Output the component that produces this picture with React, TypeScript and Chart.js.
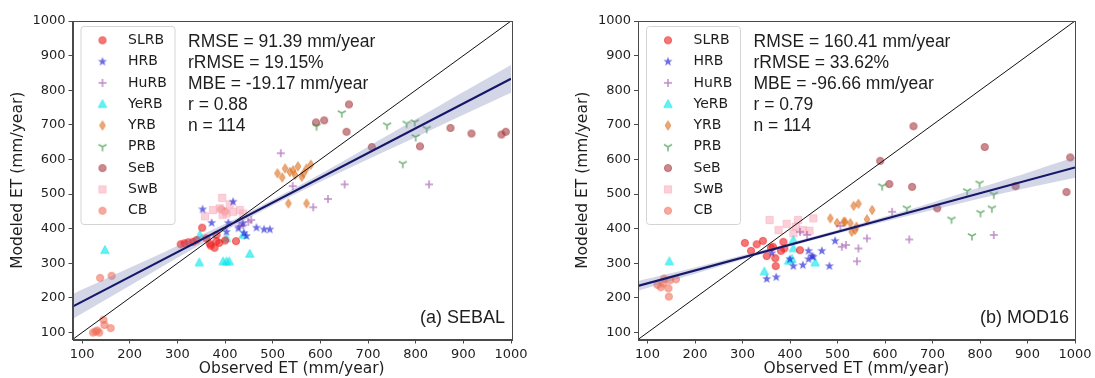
import React, { useEffect, useRef } from 'react';
import { Chart, registerables } from 'chart.js';

Chart.register(...registerables);

// ---------------- data ----------------
const categories = ['SLRB', 'HRB', 'HuRB', 'YeRB', 'YRB', 'PRB', 'SeB', 'SwB', 'CB'];
const tickValues = [100, 200, 300, 400, 500, 600, 700, 800, 900, 1000];
const axisMin = 80;
const axisMax = 1000;

// (a) SEBAL  -- observed (x) / modeled (y)
const sebalSLRBx = [307, 315, 323, 333, 340, 352, 361, 368, 370, 378, 382, 388, 400, 423, 382];
const sebalSLRBy = [355, 358, 361, 362, 367, 403, 372, 357, 351, 345, 364, 359, 366, 364, 382];
const sebalHRBx = [353, 372, 417, 407, 403, 428, 437, 466, 482, 494, 445, 440];
const sebalHRBy = [456, 417, 478, 417, 391, 401, 415, 403, 398, 398, 379, 388];
const sebalHuRBx = [438, 449, 542, 651, 616, 585, 828, 517, 455, 430];
const sebalHuRBy = [410, 420, 523, 528, 486, 462, 528, 618, 425, 408];
const sebalYeRBx = [148, 346, 396, 403, 409, 452, 347, 403, 438];
const sebalYeRBy = [338, 302, 305, 305, 305, 327, 382, 372, 382];
const sebalYRBx = [526, 536, 543, 547, 561, 571, 533, 571, 510, 520, 553, 565, 580];
const sebalYRBy = [574, 564, 569, 555, 550, 574, 473, 473, 560, 548, 580, 560, 585];
const sebalPRBx = [645, 592, 740, 781, 798, 823, 800, 773];
const sebalPRBy = [734, 696, 699, 704, 708, 689, 665, 588];
const sebalSeBx = [660, 591, 608, 655, 708, 809, 873, 917, 980, 989];
const sebalSeBy = [759, 707, 713, 680, 636, 638, 691, 675, 672, 680];
const sebalSwBx = [394, 375, 389, 403, 417, 431, 358, 438, 410, 395];
const sebalSwBy = [489, 454, 459, 444, 449, 454, 436, 444, 470, 440];
const sebalCBx = [138, 162, 123, 132, 136, 147, 145, 160, 128, 392, 400];
const sebalCBy = [258, 264, 100, 106, 100, 122, 137, 113, 103, 456, 450];

// (b) MOD16
const modSLRBx = [305, 318, 330, 343, 351, 360, 364, 369, 370, 381, 386, 388, 421];
const modSLRBy = [359, 336, 355, 365, 321, 345, 348, 315, 292, 336, 362, 343, 338];
const modHRBx = [351, 371, 362, 400, 407, 427, 439, 446, 449, 467, 483, 495, 439];
const modHRBy = [255, 260, 329, 312, 292, 295, 312, 321, 319, 336, 292, 365, 336];
const modHuRBx = [506, 518, 544, 541, 562, 615, 651, 829, 436, 421, 509];
const modHuRBy = [408, 353, 343, 306, 372, 449, 369, 382, 382, 391, 348];
const modYeRBx = [146, 346, 397, 404, 407, 453, 407];
const modYeRBy = [305, 276, 307, 312, 343, 302, 367];
const modYRBx = [485, 499, 516, 527, 530, 537, 534, 544, 573, 513, 562, 540];
const modYRBy = [430, 417, 420, 416, 391, 396, 466, 472, 454, 420, 427, 406];
const modPRBx = [594, 646, 740, 773, 799, 829, 825, 801, 783];
const modPRBy = [523, 459, 427, 509, 531, 499, 459, 446, 379];
const modSeBx = [660, 810, 590, 609, 657, 710, 875, 990, 982];
const modSeBy = [696, 636, 596, 529, 521, 459, 523, 606, 506];
const modSwBx = [357, 376, 393, 407, 412, 427, 441, 449, 417];
const modSwBy = [425, 396, 414, 387, 406, 396, 394, 430, 425];
const modCBx = [121, 128, 133, 135, 144, 145, 160, 147];
const modCBy = [238, 231, 242, 256, 228, 204, 254, 251];

// fitted lines and confidence bands
const oneToOneX = [80, 1000];
const oneToOneY = [80, 1000];
const fitX = [80, 1000];
const sebalFitY = [175, 833];
const modFitY = [235, 577];
const bandX = [80, 200, 300, 400, 500, 600, 700, 800, 900, 1000];
const sebalBandLow = [139, 235, 316, 394, 468, 536, 601, 664, 729, 793];
const sebalBandHigh = [211, 287, 350, 414, 484, 558, 637, 716, 795, 873];
const modBandLow = [221, 270, 311, 349, 386, 421, 454, 487, 518, 547];
const modBandHigh = [249, 288, 323, 359, 396, 435, 476, 519, 562, 607];

const sebalStats = ['RMSE = 91.39 mm/year', 'rRMSE = 19.15%', 'MBE = -19.17 mm/year', 'r = 0.88', 'n = 114'];
const modStats = ['RMSE = 160.41 mm/year', 'rRMSE = 33.62%', 'MBE = -96.66 mm/year', 'r = 0.79', 'n = 114'];
const sebalLabel = '(a) SEBAL';
const modLabel = '(b) MOD16';
const xTitle = 'Observed ET (mm/year)';
const yTitle = 'Modeled ET (mm/year)';

// ---------------- styles ----------------
const markerKinds: Record<string, string> = {
  SLRB: 'circle', HRB: 'star', HuRB: 'plus', YeRB: 'triangle', YRB: 'diamond',
  PRB: 'tri_down', SeB: 'circle', SwB: 'square', CB: 'circle',
};
const markerColors: Record<string, string> = {
  SLRB: 'rgba(238,30,30,0.6)',
  HRB: 'rgba(40,40,215,0.68)',
  HuRB: 'rgba(150,70,165,0.62)',
  YeRB: 'rgba(0,230,235,0.6)',
  YRB: 'rgba(220,110,30,0.6)',
  PRB: 'rgba(40,140,50,0.62)',
  SeB: 'rgba(165,55,60,0.58)',
  SwB: 'rgba(248,170,185,0.55)',
  CB: 'rgba(240,110,90,0.58)',
};

function makeMarker(kind: string, color: string): HTMLCanvasElement {
  const s = 12;
  const c = document.createElement('canvas');
  c.width = s;
  c.height = s;
  const g = c.getContext('2d')!;
  g.translate(s / 2, s / 2);
  g.fillStyle = color;
  g.strokeStyle = color;
  g.lineWidth = 1;
  g.beginPath();
  if (kind === 'circle') {
    g.arc(0, 0, 3.6, 0, Math.PI * 2);
    g.fill();
    g.stroke();
  } else if (kind === 'star') {
    for (let i = 0; i < 10; i++) {
      const r = i % 2 === 0 ? 4.8 : 2.0;
      const a = -Math.PI / 2 + (i * Math.PI) / 5;
      const px = r * Math.cos(a);
      const py = r * Math.sin(a);
      if (i === 0) g.moveTo(px, py); else g.lineTo(px, py);
    }
    g.closePath();
    g.fill();
  } else if (kind === 'plus') {
    g.lineWidth = 1.5;
    g.moveTo(-4, 0); g.lineTo(4, 0);
    g.moveTo(0, -4); g.lineTo(0, 4);
    g.stroke();
  } else if (kind === 'triangle') {
    g.moveTo(0, -4.6); g.lineTo(4.2, 3.2); g.lineTo(-4.2, 3.2);
    g.closePath();
    g.fill();
    g.stroke();
  } else if (kind === 'diamond') {
    g.moveTo(0, -4.6); g.lineTo(2.9, 0); g.lineTo(0, 4.6); g.lineTo(-2.9, 0);
    g.closePath();
    g.fill();
    g.stroke();
  } else if (kind === 'tri_down') {
    g.lineWidth = 1.6;
    g.moveTo(0, 0); g.lineTo(0, 4.6);
    g.moveTo(0, 0); g.lineTo(-4.0, -2.3);
    g.moveTo(0, 0); g.lineTo(4.0, -2.3);
    g.stroke();
  } else if (kind === 'square') {
    g.rect(-3.6, -3.6, 7.2, 7.2);
    g.fill();
    g.stroke();
  }
  return c;
}

type Plot = {
  xs: number[][];
  ys: number[][];
  fitY: number[];
  bandLow: number[];
  bandHigh: number[];
  stats: string[];
  label: string;
};

const sebalPlot: Plot = {
  xs: [sebalSLRBx, sebalHRBx, sebalHuRBx, sebalYeRBx, sebalYRBx, sebalPRBx, sebalSeBx, sebalSwBx, sebalCBx],
  ys: [sebalSLRBy, sebalHRBy, sebalHuRBy, sebalYeRBy, sebalYRBy, sebalPRBy, sebalSeBy, sebalSwBy, sebalCBy],
  fitY: sebalFitY,
  bandLow: sebalBandLow,
  bandHigh: sebalBandHigh,
  stats: sebalStats,
  label: sebalLabel,
};
const modPlot: Plot = {
  xs: [modSLRBx, modHRBx, modHuRBx, modYeRBx, modYRBx, modPRBx, modSeBx, modSwBx, modCBx],
  ys: [modSLRBy, modHRBy, modHuRBy, modYeRBy, modYRBy, modPRBy, modSeBy, modSwBy, modCBy],
  fitY: modFitY,
  bandLow: modBandLow,
  bandHigh: modBandHigh,
  stats: modStats,
  label: modLabel,
};

const TEXT = '#1e1e1e';
const tickFont = { family: '"DejaVu Sans", sans-serif', size: 13 };
const titleFont = { family: '"DejaVu Sans", sans-serif', size: 15.5 };

const overlayPlugin = {
  id: 'overlay',
  afterDraw(chart: any, _args: any, opts: any) {
    const ctx = chart.ctx as CanvasRenderingContext2D;
    const ca = chart.chartArea;
    const markers: HTMLCanvasElement[] = opts.markers;
    ctx.save();
    // frame
    ctx.strokeStyle = '#4a4a4a';
    ctx.lineWidth = 1;
    ctx.strokeRect(Math.round(ca.left) + 0.5, Math.round(ca.top) + 0.5, Math.round(ca.right - ca.left), Math.round(ca.bottom - ca.top));

    // legend
    const bl = ca.left + 8.5;
    const bt = ca.top + 5.5;
    const bw = 94;
    const bh = 198;
    ctx.beginPath();
    const r = 3;
    ctx.moveTo(bl + r, bt);
    ctx.lineTo(bl + bw - r, bt);
    ctx.quadraticCurveTo(bl + bw, bt, bl + bw, bt + r);
    ctx.lineTo(bl + bw, bt + bh - r);
    ctx.quadraticCurveTo(bl + bw, bt + bh, bl + bw - r, bt + bh);
    ctx.lineTo(bl + r, bt + bh);
    ctx.quadraticCurveTo(bl, bt + bh, bl, bt + bh - r);
    ctx.lineTo(bl, bt + r);
    ctx.quadraticCurveTo(bl, bt, bl + r, bt);
    ctx.closePath();
    ctx.fillStyle = 'rgba(255,255,255,0.85)';
    ctx.fill();
    ctx.strokeStyle = '#d4d4d4';
    ctx.stroke();
    ctx.font = '14px "DejaVu Sans", sans-serif';
    ctx.fillStyle = TEXT;
    ctx.textBaseline = 'middle';
    ctx.textAlign = 'left';
    categories.forEach((cat, i) => {
      const y = bt + 13.8 + i * 21.3;
      const m = markers[i];
      ctx.drawImage(m, bl + 21.5 - m.width / 2, y - m.height / 2);
      ctx.fillText(cat, bl + 47, y);
    });

    // stats
    ctx.font = '17.5px "Liberation Sans", Arial, sans-serif';
    (opts.stats as string[]).forEach((s, i) => {
      ctx.fillText(s, ca.left + 115.5, ca.top + 21.5 + i * 20.8);
    });
    // panel label
    ctx.font = '18px "Liberation Sans", Arial, sans-serif';
    ctx.textAlign = 'right';
    ctx.fillText(opts.label, ca.right - 6, ca.bottom - 21.5);
    ctx.restore();
  },
};

function buildConfig(p: Plot, yWidth: number, padRight: number): any {
  const markers = categories.map((c) => makeMarker(markerKinds[c], markerColors[c]));
  const datasets: any[] = [];
  datasets.push({
    label: 'band low',
    data: bandX.map((x, i) => ({ x, y: p.bandLow[i] })),
    showLine: true, pointRadius: 0, borderWidth: 0, borderColor: 'rgba(0,0,0,0)', fill: false, order: 2,
  });
  datasets.push({
    label: 'band high',
    data: bandX.map((x, i) => ({ x, y: p.bandHigh[i] })),
    showLine: true, pointRadius: 0, borderWidth: 0, borderColor: 'rgba(0,0,0,0)',
    backgroundColor: 'rgba(120,130,180,0.33)', fill: '-1', order: 2, tension: 0.4,
  });
  datasets.push({
    label: 'fit',
    data: fitX.map((x, i) => ({ x, y: p.fitY[i] })),
    showLine: true, pointRadius: 0, borderColor: '#17176a', borderWidth: 2.2, fill: false, order: 0,
  });
  datasets.push({
    label: '1:1',
    data: oneToOneX.map((x, i) => ({ x, y: oneToOneY[i] })),
    showLine: true, pointRadius: 0, borderColor: '#111', borderWidth: 1, fill: false, order: 1,
  });
  categories.forEach((cat, i) => {
    datasets.push({
      label: cat,
      data: p.xs[i].map((x, j) => ({ x, y: p.ys[i][j] })),
      pointStyle: markers[i],
      pointRadius: 4,
      showLine: false,
      order: 3,
    });
  });
  const axisCommon = (title: string) => ({
    type: 'linear',
    min: axisMin,
    max: axisMax,
    afterBuildTicks: (s: any) => {
      s.ticks = tickValues.map((v) => ({ value: v }));
    },
    ticks: {
      font: tickFont, color: TEXT, maxRotation: 0, autoSkip: false, padding: 3,
      callback: (v: any) => String(v),
    },
    grid: { drawOnChartArea: false, drawTicks: true, tickLength: 4, color: '#4a4a4a', tickWidth: 1 },
    border: { display: true, color: '#4a4a4a', width: 1 },
    title: { display: true, text: title, font: titleFont, color: TEXT, padding: { top: 9, bottom: 0 } },
  });
  return {
    type: 'scatter',
    data: { datasets },
    plugins: [overlayPlugin],
    options: {
      animation: false,
      responsive: false,
      layout: { padding: { left: 0, top: 21, right: padRight, bottom: 0 } },
      plugins: {
        legend: { display: false },
        tooltip: { enabled: false },
        overlay: { markers, stats: p.stats, label: p.label },
      },
      scales: {
        x: {
          ...axisCommon(xTitle),
          position: 'bottom',
          afterFit: (s: any) => { s.height = 38.5; },
        },
        y: {
          ...axisCommon(yTitle),
          position: 'left',
          afterFit: (s: any) => { s.width = yWidth; },
        },
      },
    },
  };
}

function Panel({ plot, left, width, yWidth, padRight }: { plot: Plot; left: number; width: number; yWidth: number; padRight: number }) {
  const ref = useRef<HTMLCanvasElement | null>(null);
  useEffect(() => {
    if (!ref.current) return;
    const chart = new Chart(ref.current, buildConfig(plot, yWidth, padRight));
    return () => chart.destroy();
  }, [plot, yWidth, padRight]);
  return (
    <canvas
      ref={ref}
      width={width}
      height={378}
      style={{ position: 'absolute', left, top: 0, width, height: 378 }}
    />
  );
}

export default function App() {
  return (
    <div style={{ position: 'absolute', left: 0, top: 0, width: 1095, height: 378, background: '#fff' }}>
      <Panel plot={sebalPlot} left={0} width={547} yWidth={72.5} padRight={36} />
      <Panel plot={modPlot} left={565} width={530} yWidth={73} padRight={20} />
    </div>
  );
}
